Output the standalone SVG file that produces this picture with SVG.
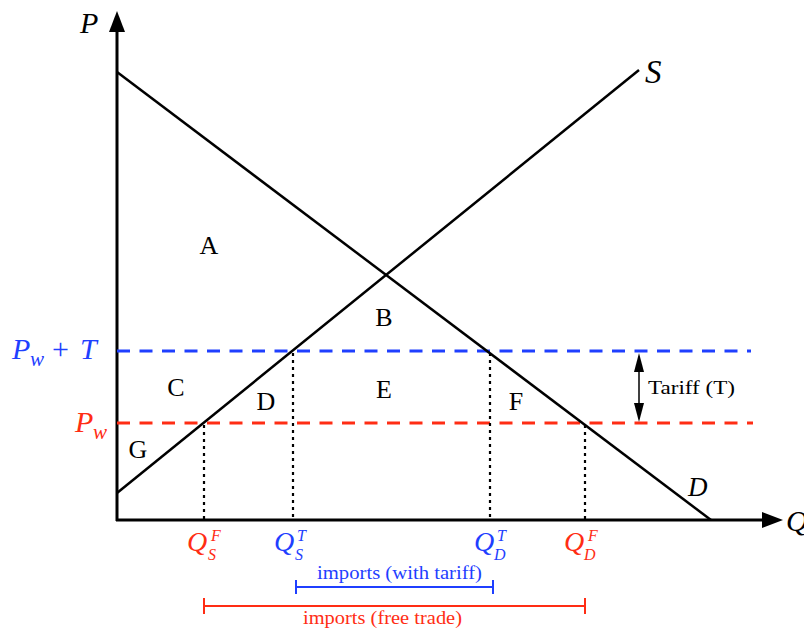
<svg xmlns="http://www.w3.org/2000/svg" width="804" height="631" viewBox="0 0 804 631">
<style>
.ax{stroke:#000;stroke-width:3;fill:none}
.cv{stroke:#000;stroke-width:2.5;fill:none}
.dot{stroke:#000;stroke-width:2.2;stroke-dasharray:3,4;fill:none}
.db{stroke:#1f3fff;stroke-width:2.8;stroke-dasharray:13,9.5;fill:none}
.dr{stroke:#ff2d14;stroke-width:2.8;stroke-dasharray:13,9.5;fill:none}
.m{font-family:"Liberation Serif",serif;font-style:italic}
.t{font-family:"Liberation Serif",serif}
.lbl{font-family:"Liberation Serif",serif;font-size:26px;text-anchor:middle}
.sc{font-size:16px}
.blue{fill:#1f3fff}
.red{fill:#ff2d14}
</style>
<rect width="804" height="631" fill="#fff"/>
<g id="axes">
<line class="ax" x1="117" y1="521" x2="117" y2="30"/>
<path d="M109,32 L117,11 L125,32 z" fill="#000"/>
<line class="ax" x1="116" y1="520" x2="764" y2="520"/>
<path d="M762,512 L783,520 L762,528 z" fill="#000"/>
<text class="m" x="80" y="33" font-size="30">P</text>
<text class="m" x="786" y="531" font-size="30">Q</text>
</g>
<g id="connectors">
<line class="db" x1="117" y1="351" x2="751" y2="351"/>
<line class="dr" x1="117" y1="423" x2="753" y2="423"/>
<line class="dot" x1="204" y1="425" x2="204" y2="519"/>
<line class="dot" x1="293" y1="353" x2="293" y2="519"/>
<line class="dot" x1="490" y1="353" x2="490" y2="519"/>
<line class="dot" x1="585" y1="425" x2="585" y2="519"/>
</g>
<g id="demand">
<line class="cv" x1="117" y1="72" x2="711" y2="520"/>
<text class="m" x="688" y="496" font-size="27">D</text>
</g>
<g id="supply">
<line class="cv" x1="117" y1="493" x2="639" y2="70"/>
<text class="m" x="645" y="83" font-size="33">S</text>
</g>
<g id="price-labels">
<text class="m blue" x="12" y="359" font-size="30">P</text>
<text class="m blue" x="30" y="366" font-size="21">w</text>
<text class="t blue" x="52" y="359" font-size="30">+</text>
<text class="m blue" x="80" y="359" font-size="30">T</text>
<text class="m red" x="75" y="432" font-size="30">P</text>
<text class="m red" x="93" y="439" font-size="21">w</text>
</g>
<g id="areas">
<text class="lbl" x="209" y="254">A</text>
<text class="lbl" x="384" y="326">B</text>
<text class="lbl" x="176" y="396">C</text>
<text class="lbl" x="266" y="410">D</text>
<text class="lbl" x="384" y="398">E</text>
<text class="lbl" x="516" y="410">F</text>
<text class="lbl" x="138" y="458">G</text>
</g>
<g id="tariff">
<line x1="639" y1="362" x2="639" y2="412" stroke="#000" stroke-width="1.5"/>
<path d="M634,372 L639,353 L644,372 z" fill="#000"/>
<path d="M634,403 L639,422 L644,403 z" fill="#000"/>
<text class="t" x="648" y="394" font-size="19" textLength="87" lengthAdjust="spacingAndGlyphs">Tariff (T)</text>
</g>
<g id="q-labels">
<text class="m red" x="187" y="551" font-size="28">Q</text>
<text class="m red sc" x="211" y="541">F</text>
<text class="m red sc" x="208" y="560">S</text>
<text class="m blue" x="274" y="551" font-size="28">Q</text>
<text class="m blue sc" x="297" y="541">T</text>
<text class="m blue sc" x="295" y="560">S</text>
<text class="m blue" x="474" y="551" font-size="28">Q</text>
<text class="m blue sc" x="497" y="541">T</text>
<text class="m blue sc" x="494" y="560">D</text>
<text class="m red" x="564" y="551" font-size="28">Q</text>
<text class="m red sc" x="588" y="541">F</text>
<text class="m red sc" x="584" y="560">D</text>
</g>
<g id="imports-tariff">
<path d="M296,587 H493 M296,580 V594 M493,580 V594" stroke="#1f3fff" stroke-width="2" fill="none"/>
<text class="t blue" x="317" y="579" font-size="18" textLength="165" lengthAdjust="spacingAndGlyphs">imports (with tariff)</text>
</g>
<g id="imports-free">
<path d="M204,606 H585 M204,598 V614 M585,598 V614" stroke="#ff2d14" stroke-width="2" fill="none"/>
<text class="t red" x="303" y="624" font-size="18" textLength="159" lengthAdjust="spacingAndGlyphs">imports (free trade)</text>
</g>
</svg>
